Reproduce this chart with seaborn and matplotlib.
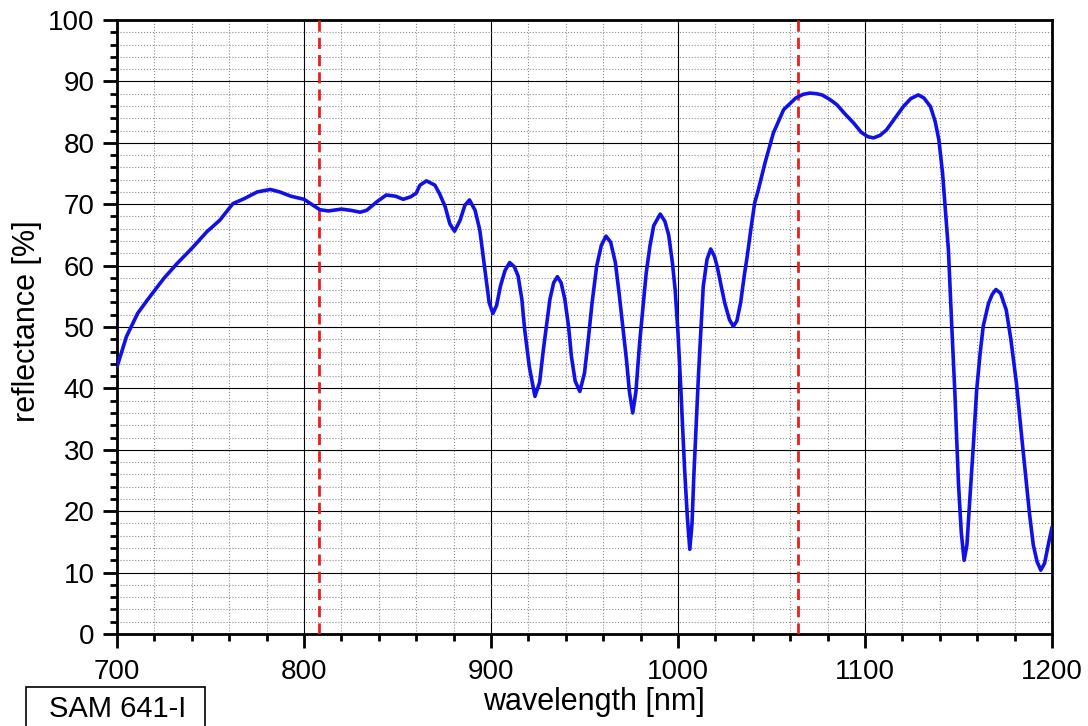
import numpy as np
import pandas as pd
import matplotlib
matplotlib.use('Agg')
import matplotlib.pyplot as plt
import seaborn as sns
from matplotlib.ticker import MultipleLocator
from matplotlib.patches import Rectangle

# reflectance curve
wavelength = [
    700, 705, 711, 716, 725, 732, 740, 748, 755, 762, 768, 775, 782, 787, 793,
    800, 804, 808.5, 813, 820, 825, 830, 833.5, 839, 844, 849, 853, 857, 860,
    862, 865.5, 870, 872.5, 875.5, 878, 880.5, 883.5, 886, 888.5, 891.5, 894,
    897, 899, 901, 903, 905, 907.5, 910, 912.5, 914.5, 916.5, 918, 920.5,
    923.5, 926, 928, 930, 931.5, 933.5, 935.5, 937.5, 939.5, 941.5, 943, 945,
    947.5, 950, 952, 954, 956.5, 959, 961.5, 964, 966.5, 968.5, 970.5, 972.5,
    974, 975.8, 977.5, 979.5, 981.5, 983, 985, 987, 990.5, 993, 995, 997,
    998.5, 1000, 1001.5, 1003.5, 1005, 1006.3, 1007.5, 1008.5, 1010, 1011,
    1013.5, 1015.5, 1017.5, 1019.5, 1021, 1023, 1025, 1027.5, 1029.6, 1031.5,
    1033.5, 1035.5, 1037, 1039, 1041, 1043, 1046.5, 1051, 1056.5, 1063, 1067,
    1070.5, 1074, 1077, 1081, 1085, 1089, 1094, 1098, 1101.5, 1104.5, 1108,
    1111.5, 1116, 1120.5, 1124.5, 1128.5, 1131.5, 1135, 1137.5, 1139.5,
    1141.5, 1143, 1144.6, 1146.4, 1148, 1150, 1151.5, 1153, 1154.5, 1156,
    1158, 1159.7, 1161.5, 1163.2, 1166, 1168, 1170, 1172.5, 1175.5, 1178,
    1181, 1183.5, 1186.4, 1188, 1190, 1192, 1194, 1196, 1198, 1200,
]
reflectance = [
    43.5, 48.4, 52.2, 54.3, 57.9, 60.3, 62.8, 65.5, 67.4, 70.1, 70.9, 72.0,
    72.4, 72.0, 71.3, 70.8, 70.0, 69.1, 68.9, 69.2, 69.0, 68.7, 69.0, 70.4,
    71.5, 71.3, 70.8, 71.2, 71.8, 73.1, 73.8, 73.1, 71.7, 69.6, 66.8, 65.6,
    67.4, 69.8, 70.7, 69.0, 65.8, 58.8, 54.0, 52.2, 53.5, 56.6, 59.2, 60.5,
    59.8, 58.3, 54.5, 49.6, 43.5, 38.7, 41.0, 46.3, 51.0, 54.5, 57.2, 58.2,
    57.2, 54.5, 50.0, 45.2, 41.2, 39.5, 42.5, 47.9, 53.8, 59.9, 63.3, 64.8,
    63.8, 60.5, 55.5, 50.0, 44.5, 39.5, 36.0, 39.5, 47.5, 54.0, 58.8, 63.2,
    66.5, 68.4, 67.2, 65.0, 60.5, 56.0, 49.0, 40.0, 27.0, 19.0, 13.8, 18.0,
    26.0, 36.0, 42.5, 56.6, 61.0, 62.7, 61.5, 59.8, 56.8, 53.9, 51.2, 50.1,
    51.0, 54.0, 58.5, 61.5, 66.0, 70.2, 72.4, 76.7, 81.6, 85.4, 87.3, 87.9,
    88.1, 88.0, 87.8, 87.1, 86.2, 84.8, 83.2, 81.7, 81.0, 80.8, 81.2, 82.1,
    84.0, 85.9, 87.2, 87.8, 87.3, 85.9, 83.5, 80.5, 75.0, 69.0, 62.6, 50.1,
    39.7, 24.4, 16.5, 12.0, 14.5, 21.7, 31.0, 39.7, 45.5, 50.1, 53.8, 55.3,
    56.1, 55.5, 52.8, 48.0, 40.8, 33.0, 24.4, 19.5, 14.5, 11.8, 10.4, 11.5,
    14.5, 17.4,
]
laser_lines = [808, 1064]
sample_name = 'SAM 641-I'

df = pd.DataFrame({'wavelength': wavelength, 'reflectance': reflectance})

sns.set_theme(style='white')
plt.rcParams['font.family'] = ['Liberation Sans', 'DejaVu Sans']

fig = plt.figure(figsize=(10.88, 7.26), dpi=100)
ax = fig.add_axes([117 / 1088, 92 / 726, 935 / 1088, 614 / 726])

# grid first so the curve sits on top
ax.xaxis.set_major_locator(MultipleLocator(100))
ax.xaxis.set_minor_locator(MultipleLocator(20))
ax.yaxis.set_major_locator(MultipleLocator(10))
ax.yaxis.set_minor_locator(MultipleLocator(2))
ax.grid(which='major', color='black', linestyle='-', linewidth=0.8)
ax.grid(which='minor', color='#8c8c8c', linestyle=':', linewidth=0.8)
ax.set_axisbelow(True)

for wl in laser_lines:
    ax.axvline(wl, color='#ee1c1c', linestyle=(0, (4, 2.2)), linewidth=2, zorder=3)

sns.lineplot(data=df, x='wavelength', y='reflectance', color='#1010e8',
             linewidth=2.6, ax=ax, zorder=4)

ax.set_xlim(700, 1200)
ax.set_ylim(0, 100)

for side in ['left', 'bottom', 'top', 'right']:
    ax.spines[side].set_visible(True)
    ax.spines[side].set_color('black')
    ax.spines[side].set_linewidth(2)

ax.tick_params(which='major', direction='out', length=10, width=2,
               colors='black', labelsize=20, pad=6, bottom=True, left=True)
ax.tick_params(which='minor', direction='out', length=5, width=2,
               colors='black', bottom=True, left=True)
ax.tick_params(axis='x', which='major', pad=8)

ax.set_xlabel('wavelength [nm]', fontsize=22, color='black')
ax.set_ylabel('reflectance [%]', fontsize=22, color='black')
ax.xaxis.set_label_coords(0.51, -0.086)
ax.yaxis.set_label_coords(-0.08, 0.51)

# sample tag box in the lower left corner
fig.patches.append(Rectangle((26 / 1088, -0.02), 179 / 1088, 39 / 726 + 0.02,
                             transform=fig.transFigure, fill=False,
                             edgecolor='black', linewidth=1.2))
fig.text(118 / 1088, 17 / 726, sample_name, fontsize=21, ha='center',
         va='center', color='black')

fig.savefig('out.png', dpi=100)
